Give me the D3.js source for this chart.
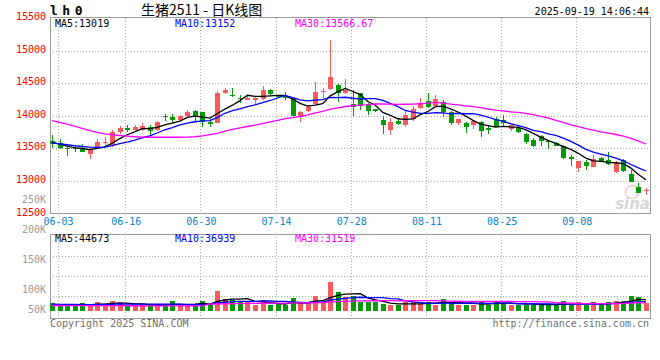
<!DOCTYPE html>
<meta charset=utf-8>
<style>
body { margin: 0; background: white }
svg { display: block; font: 10px "DejaVu Sans Mono", monospace }
</style>
<script src="https://cdn.jsdelivr.net/npm/d3@7/dist/d3.min.js"></script>
<body>
<svg width=660 height=360 id=kline></svg>
</body>
<script>
// trading days 05-30 .. 09-19
const dates = ("05-30 06-03 06-04 06-05 06-06 06-09 06-10 06-11 06-12 06-13 06-16 06-17 06-18 06-19 06-20 06-23 06-24 06-25 06-26 06-27 " +
	"06-30 07-01 07-02 07-03 07-04 07-07 07-08 07-09 07-10 07-11 07-14 07-15 07-16 07-17 07-18 07-21 07-22 07-23 07-24 07-25 " +
	"07-28 07-29 07-30 07-31 08-01 08-04 08-05 08-06 08-07 08-08 08-11 08-12 08-13 08-14 08-15 08-18 08-19 08-20 08-21 08-22 " +
	"08-25 08-26 08-27 08-28 08-29 09-01 09-02 09-03 09-04 09-05 09-08 09-09 09-10 09-11 09-12 09-15 09-16 09-17 09-18 09-19").split(" ");
const tickDates = ["06-03", "06-16", "06-30", "07-14", "07-28", "08-11", "08-25", "09-08"];

const open = [13619,13578,13510,13510,13510,13412,13515,13593,13552,13743, 13806,13775,13780,13832,13780,14002,13985,13929,14000,14066,
	14051,13903,13883,14347,14326,14265,14235,14235,14250,14388, 14300,14296,14270,13980,14066,14184,14357,14403,14474,14347,
	14184,14347,14184,14107,13929,13786,13913,13854,13953,14115, 14229,14146,14214,14063,13891,13896,13854,13906,13813,13943,
	13932,13802,13815,13717,13621,13692,13616,13581,13540,13374, 13202,13288,13207,13354,13323,13136,13323,13111,12914,12838];
const high = [13707,13645,13516,13552,13562,13500,13645,13671,13785,13847, 13863,13863,13888,13852,13914,14028,14031,14010,14082,14092,
	14061,13944,14377,14428,14428,14316,14301,14301,14454,14418, 14316,14362,14275,14066,14168,14515,14428,15163,14490,14566,
	14398,14352,14194,14107,13990,13969,13954,14073,14146,14266, 14344,14313,14245,14073,13953,13901,13917,13917,13839,13979,
	14011,13875,13864,13742,13651,13707,13626,13591,13550,13399, 13313,13323,13399,13364,13439,13313,13338,13172,12970,12894];
const low = [13500,13490,13381,13438,13438,13334,13500,13552,13526,13723, 13743,13759,13759,13707,13769,13925,13883,13918,13985,13918,
	13832,13832,13883,14337,14286,14199,14235,14173,14235,14316, 14265,14235,13995,13898,14056,14173,14275,14398,14204,14337,
	13995,14082,14005,14061,13725,13699,13852,13823,13917,14110, 14115,14136,13979,13854,13865,13734,13802,13677,13719,13823,
	13839,13760,13733,13566,13515,13540,13490,13530,13338,13222, 13136,13162,13207,13288,13237,13126,13136,12985,12808,12783];
const close = [13572,13500,13484,13484,13448,13484,13598,13603,13754,13806, 13780,13821,13847,13759,13904,13977,13939,14000,14051,14000,
	13903,13867,14352,14388,14301,14255,14275,14275,14388,14337, 14286,14270,14000,14056,14133,14362,14377,14602,14352,14398,
	14133,14143,14066,14066,13852,13908,13878,14011,14104,14193, 14141,14250,14050,13896,13953,13830,13912,13771,13780,13828,
	13896,13865,13745,13600,13540,13616,13590,13540,13348,13329, 13310,13222,13330,13303,13260,13278,13157,12985,12818,12857];
const volume = [30000,22200,22200,22200,30000,22200,35100,22200,39000,35100, 22200,22200,22200,22200,22200,22200,39000,22200,22200,27300,
	39000,22200,79200,46800,42900,39000,35100,22200,42900,22200, 27300,22200,51900,30000,30000,58500,30000,114300,74100,54600,
	59700,33900,33900,33900,27300,23400,22200,33900,33900,27300, 33900,25000,46800,30000,25000,25000,25000,33900,25000,39000,
	30000,25000,25000,30000,24680,22200,27300,22200,39000,22200, 33900,22200,33900,22200,33825,39000,39000,58500,54600,32265];

// moving-average values before the window is full
const ma5Head = [13590, 13565, 13535, 13512];
const ma10Head = [13585, 13570, 13555, 13540, 13528, 13520, 13515, 13518, 13540];
const ma30Head = [13925,13900,13873,13840,13805,13770,13745,13722,13707,13697, 13688,13678,13672,13670,13670,13670,13670,13670,13672,13678,
	13690,13710,13730,13765,13790,13815,13835,13855,13880];
const vma5Head = [26000, 25000, 24000, 24000];
const vma10Head = [26000, 26000, 25500, 25500, 25000, 25000, 25000, 25500, 26000];
const vma30Head = [21500,21400,21300,21200,21100,21000,21000,20900,20800,20700, 20600,20500,20400,20300,20200,20100,20000,20000,20000,20000,
	20100,27000,27500,28000,28500,29000,29500,30000,30300];

const priceTicks = [15500, 15000, 14500, 14000, 13500, 13000, 12500];
const volTicks = [250000, 200000, 150000, 100000, 50000];
const code = "lh0", title = "生猪2511 - 日K线图", stamp = "2025-09-19 14:06:44";

function ma(values, n, head) {
	return values.map((v, i) => i < n-1 ? head[i] : d3.mean(values.slice(i-n+1, i+1)));
}
const fmt = v => Number.isInteger(+v.toFixed(2)) ? String(Math.round(v)) : v.toFixed(2);

const up = "#f65a5a", down = "#079a07";
const maColors = ["#000", "#0000ff", "#ff00ff"];
const L = 50, R = 650, pTop = 17.5, pBot = 213.5, vTop = 234, vBot = 318;

const svg = d3.select("#kline");
const x = d3.scalePoint().domain(dates).range([52, 646]);
const y = d3.scaleLinear().domain([12500, 15500]).range([213.5, 18]);
const yv = d3.scaleLinear().domain([0, 100000]).range([311, 285.4]);
const yvLabel = d3.scaleLinear().domain([100000, 250000]).range([290.3, 200.3]);
const vGrid = d3.scaleLinear().domain([0, 4]).range([316, 236]);
const bw = 5.6;
const data = dates.map((d, i) => ({d, o: open[i], h: high[i], l: low[i], c: close[i], v: volume[i]}));
const color = d => d.c >= d.o ? up : down;

// grid
const grid = svg.append("g")
	.attr("stroke", "#a8a8a8")
	.attr("stroke-dasharray", "1,2")
	.attr("shape-rendering", "crispEdges");
grid.selectAll(".hp").data(priceTicks.slice(1, -1)).join("line")
	.attr("x1", L).attr("x2", R)
	.attr("y1", d => Math.round(y(d)) + 0.5).attr("y2", d => Math.round(y(d)) + 0.5);
grid.selectAll(".hv").data([1, 2, 3]).join("line")
	.attr("x1", L).attr("x2", R)
	.attr("y1", d => vGrid(d) + 0.5).attr("y2", d => vGrid(d) + 0.5);
for (const [a, b] of [[pTop, pBot], [vTop, vBot]])
	grid.append("g").selectAll("line").data(tickDates).join("line")
		.attr("x1", d => Math.round(x(d)) - 1.5).attr("x2", d => Math.round(x(d)) - 1.5)
		.attr("y1", a).attr("y2", b);

// panels
svg.append("g")
	.attr("fill", "none")
	.attr("stroke", "#9a9a9a")
	.attr("shape-rendering", "crispEdges")
	.selectAll("rect")
	.data([[pTop, pBot], [vTop, vBot]])
	.join("rect")
		.attr("x", L + 0.5).attr("y", d => d[0])
		.attr("width", R - L).attr("height", d => d[1] - d[0]);

// watermark
const wm = svg.append("g").attr("opacity", 0.55);
wm.append("circle").attr("cx", 632).attr("cy", 192).attr("r", 6.5).attr("fill", "none").attr("stroke", "#f2b0b0").attr("stroke-width", 2);
wm.append("text").attr("x", 650).attr("y", 209).attr("text-anchor", "end")
	.attr("font-family", "DejaVu Sans").attr("font-weight", "bold").attr("font-style", "italic").attr("font-size", 15)
	.attr("fill", "#b8b8b8").text("sina");

// candles
const candles = svg.append("g").attr("shape-rendering", "crispEdges");
candles.selectAll("line").data(data).join("line")
	.attr("stroke", color)
	.attr("x1", d => Math.round(x(d.d)) + 0.5).attr("x2", d => Math.round(x(d.d)) + 0.5)
	.attr("y1", d => y(d.h)).attr("y2", d => y(d.l));
candles.selectAll("rect").data(data).join("rect")
	.attr("fill", color)
	.attr("x", d => Math.round(x(d.d)) + 0.5 - bw/2)
	.attr("width", bw)
	.attr("y", d => y(Math.max(d.o, d.c)))
	.attr("height", d => Math.max(1, Math.abs(y(d.o) - y(d.c))));

// price moving averages
const line = d3.line().x((v, i) => x(dates[i])).y(v => y(v));
[ma(close, 5, ma5Head), ma(close, 10, ma10Head), ma(close, 30, ma30Head)].forEach((m, k) => {
	svg.append("path").datum(m)
		.attr("fill", "none").attr("stroke", maColors[k]).attr("stroke-width", 1.3)
		.attr("d", line);
});

// volume bars
svg.append("g")
	.attr("shape-rendering", "crispEdges")
	.selectAll("rect")
	.data(data)
	.join("rect")
		.attr("fill", color)
		.attr("x", d => Math.round(x(d.d)) + 0.5 - bw/2)
		.attr("width", bw)
		.attr("y", d => yv(d.v))
		.attr("height", d => yv(0) - yv(d.v));

const vline = d3.line().x((v, i) => x(dates[i])).y(v => yv(v));
const vmas = [ma(volume, 5, vma5Head), ma(volume, 10, vma10Head), ma(volume, 30, vma30Head)];
vmas.forEach((m, k) => {
	svg.append("path").datum(m)
		.attr("fill", "none").attr("stroke", maColors[k]).attr("stroke-width", 1.3)
		.attr("d", vline);
});

// axes
svg.append("g")
	.attr("transform", `translate(${L},0)`)
	.call(d3.axisLeft(y).tickValues(priceTicks).tickSize(0).tickPadding(4).tickFormat(d3.format("d")))
	.call(g => g.select(".domain").remove())
	.call(g => g.selectAll("text").attr("fill", "#ff0000").attr("dy", "0.16em"))
	.attr("font-family", null).attr("font-size", null);
svg.append("g")
	.attr("transform", `translate(${L},0)`)
	.call(d3.axisLeft(yvLabel).tickValues(volTicks).tickSize(0).tickPadding(4).tickFormat(d => d/1000 + "K"))
	.call(g => g.select(".domain").remove())
	.call(g => g.selectAll(".tick").attr("transform", d => `translate(0,${Math.min(yvLabel(d), vBot - 8)})`))
	.call(g => g.selectAll("text").attr("fill", "#9a9a9a").attr("dy", "0.3em"))
	.attr("font-family", null).attr("font-size", null);
svg.append("g")
	.attr("transform", `translate(-1.5,${pBot})`)
	.call(d3.axisBottom(x).tickValues(tickDates).tickSize(0).tickPadding(4))
	.call(g => g.select(".domain").remove())
	.call(g => g.selectAll("text").attr("fill", "#0a84cc"))
	.attr("font-family", null).attr("font-size", null);

// header and legends
svg.append("text").attr("x", 50).attr("y", 15).attr("font-size", 13).attr("font-weight", "bold")
	.attr("letter-spacing", 4.5).text(code);
svg.append("text").attr("x", 141).attr("y", 15).attr("font-family", "Noto Sans CJK SC").attr("font-size", 14)
	.text(title);
svg.append("text").attr("x", 649).attr("y", 15).attr("text-anchor", "end").text(stamp);

const lastLabel = (series, top) => svg.append("g").selectAll("text")
	.data(series)
	.join("text")
		.attr("x", (d, k) => 55 + k*120)
		.attr("y", top)
		.attr("fill", (d, k) => maColors[k])
		.text((d, k) => `MA${[5, 10, 30][k]}:${fmt(d[d.length-1])}`);
lastLabel([ma(close, 5, ma5Head), ma(close, 10, ma10Head), ma(close, 30, ma30Head)], 27);
lastLabel(vmas, 242);

svg.append("text").attr("x", 50).attr("y", 327).attr("fill", "#707070").text("Copyright 2025 SINA.COM");
svg.append("text").attr("x", 649).attr("y", 327).attr("text-anchor", "end").attr("fill", "#707070").text("http://finance.sina.com.cn");
</script>
